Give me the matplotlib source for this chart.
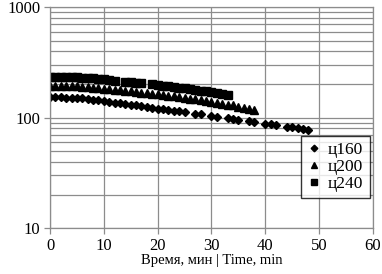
import matplotlib
matplotlib.use("Agg")
import matplotlib.pyplot as plt
from matplotlib.ticker import FixedLocator, NullFormatter

plt.rcParams["font.family"] = ["Liberation Serif", "DejaVu Serif"]

# c160 (diamonds)
t160 = [0, 1, 2, 3, 4, 5, 6, 7, 8, 9, 10, 11, 12, 13, 14, 15, 16, 17, 18, 19,
        20, 21, 22, 23, 24, 25, 27, 28, 30, 31, 33, 34, 35, 37, 38, 40, 41,
        42, 44, 45, 46, 47, 48]
v160 = [153, 153, 153, 152, 152, 151, 150, 148, 146, 144, 141, 139, 137, 135,
        133, 131, 129, 127, 125, 123, 121, 119, 117, 115, 114, 112, 109, 107,
        104, 102, 99, 97, 96, 93, 91, 88, 87, 86, 83, 82, 80, 79, 77]

# c200 (triangles)
t200 = list(range(0, 39))
v200 = [195, 195, 195, 194, 194, 193, 191, 189, 187, 185, 183, 181, 179, 177,
        175, 173, 171, 169, 167, 165, 163, 161, 158, 156, 154, 151, 149, 147,
        144, 142, 139, 137, 134, 131, 129, 126, 123, 120, 117]

# c240 (squares)
t240 = [0, 1, 2, 3, 4, 5, 6, 7, 8, 9, 10, 11, 12, 14, 15, 16, 17, 19, 20,
        21, 22, 23, 24, 25, 26, 27, 28, 29, 30, 31, 32, 33]
v240 = [235, 235, 235, 234, 234, 233, 231, 229, 227, 225, 222, 220, 217, 212,
        210, 207, 205, 200, 197, 195, 192, 190, 187, 185, 182, 179, 176, 174,
        171, 168, 165, 162]

labels = ["ц160", "ц200", "ц240"]
x_ticks = [0, 10, 20, 30, 40, 50, 60]

fig = plt.figure(figsize=(3.82, 2.74), dpi=100)
ax = fig.add_axes([0.131, 0.168, 0.845, 0.805])

ax.plot(t160, v160, "D", color="black", markersize=4.2, label=labels[0])
ax.plot(t200, v200, "^", color="black", markersize=5.4, label=labels[1])
ax.plot(t240, v240, "s", color="black", markersize=5.6, label=labels[2])

ax.set_yscale("log")
ax.set_ylim(10, 1000)
ax.set_xlim(0, 60)
ax.set_xticks(x_ticks)
ax.set_yticks([10, 100, 1000])
ax.set_yticklabels(["10", "100", "1000"])
ax.yaxis.set_minor_locator(FixedLocator([m * d for d in (10, 100) for m in range(2, 10)]))
ax.yaxis.set_minor_formatter(NullFormatter())

grid_col = "#8c8c8c"
ax.grid(True, which="major", axis="both", color=grid_col, linewidth=0.9)
ax.grid(True, which="minor", axis="y", color=grid_col, linewidth=0.9)
ax.set_axisbelow(True)
for s in ax.spines.values():
    s.set_color(grid_col)
    s.set_linewidth(0.9)
ax.tick_params(axis="both", which="major", color=grid_col, length=4,
               width=0.9, labelsize=12, pad=3)
ax.tick_params(axis="y", which="minor", length=0)

ax.set_xlabel("Время, мин | Time, min", fontsize=10.5, labelpad=0)

leg = ax.legend(loc="lower right", bbox_to_anchor=(0.99, 0.135), fontsize=12.5,
                frameon=True, fancybox=False, handlelength=0.8,
                handletextpad=0.4, borderpad=0.35, labelspacing=0.05,
                borderaxespad=0, markerscale=0.8)
leg.get_frame().set_edgecolor("black")
leg.get_frame().set_linewidth(1.0)

fig.savefig("out.png", dpi=100)
